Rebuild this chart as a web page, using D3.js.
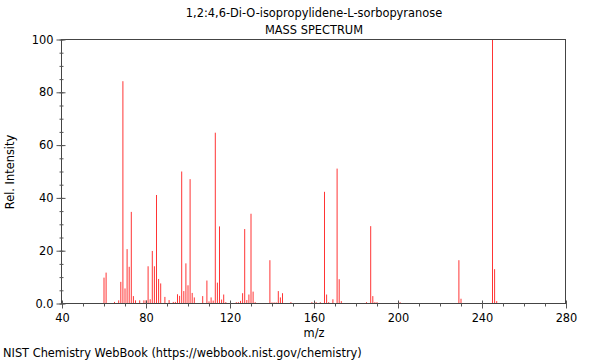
<!DOCTYPE html>
<html>
<head>
<meta charset="utf-8">
<script src="https://cdn.jsdelivr.net/npm/d3@7"></script>
<style>
  body { margin: 0; background: #fff; }
  svg { display: block; font-family: "DejaVu Sans", sans-serif; }
</style>
</head>
<body>
<div id="chart"></div>
<script>
// peaks
var mz = [60, 61, 65, 67, 68, 69, 70, 71, 72, 73, 74, 75, 77, 79, 80, 81, 82, 83, 84, 85,
  86, 87, 89, 91, 93, 94, 95, 96, 97, 98, 99, 100, 101, 102, 103, 107, 109, 110, 111, 112,
  113, 114, 115, 116, 117, 118, 123, 124, 125, 126, 127, 128, 129, 130, 131, 132, 139, 140, 141, 142,
  143, 144, 145, 149, 159, 161, 163, 165, 166, 167, 169, 171, 172, 173, 185, 187, 188, 189, 190, 201,
  229, 230, 245, 246, 247];
var intensity = [9.8, 11.7, 0.6, 1.2, 8.2, 84.2, 5.7, 20.6, 13.9, 34.7, 2.8, 1.2, 1.2, 1.2, 1.2, 14.1, 1.6, 19.9, 14.1, 41.1,
  9.3, 7.6, 2.5, 1.3, 0.6, 0.6, 3.5, 2.9, 50.0, 4.7, 15.2, 6.9, 47.1, 4.0, 2.3, 2.8, 8.7, 0.8, 2.3, 1.1,
  64.7, 7.9, 29.2, 1.5, 3.4, 0.5, 0.5, 0.5, 1.0, 3.9, 28.2, 1.3, 3.4, 34.0, 4.5, 0.5, 16.4, 0.4, 0.4, 0.4,
  4.7, 2.3, 3.9, 0.5, 0.5, 0.5, 0.5, 42.3, 3.4, 0.5, 1.6, 51.1, 9.2, 0.9, 0.5, 29.3, 2.8, 0.5, 0.5, 0.5,
  16.4, 1.8, 100, 13.0, 0.9];

var xTicks = [40, 80, 120, 160, 200, 240, 280];
var xMinor = d3.range(40, 281, 10);
var yTicks = [0, 20, 40, 60, 80, 100];
var yTickLabels = ["0.0", "20", "40", "60", "80", "100"];
var yMinor = d3.range(0, 101, 5);

var titleLines = ["1,2:4,6-Di-O-isopropylidene-L-sorbopyranose", "MASS SPECTRUM"];
var xLabel = "m/z", yLabel = "Rel. Intensity";
var credit = "NIST Chemistry WebBook (https://webbook.nist.gov/chemistry)";

data = mz.map((m, i) => ({mz: m, value: intensity[i]}));

var width = 600, height = 360;
var fs = 11.4;
margin = ({top: 40, right: 34, bottom: 56, left: 62});

var svg = d3.select("#chart").append("svg")
  .attr("width", width)
  .attr("height", height);

x = d3.scaleLinear()
  .domain([40, 280])
  .range([margin.left, width - margin.right]);

y = d3.scaleLinear()
  .domain([0, 100])
  .range([height - margin.bottom - 0.5, margin.top - 0.5]);

// peaks
svg.append("g")
  .attr("stroke", "#ff0000")
  .attr("stroke-width", 0.8)
  .selectAll("line")
  .data(data)
  .enter().append("line")
  .attr("x1", d => x(d.mz))
  .attr("x2", d => x(d.mz))
  .attr("y1", y(0))
  .attr("y2", d => y(d.value));

// frame
svg.append("rect")
  .attr("x", margin.left - 0.5)
  .attr("y", margin.top - 0.5)
  .attr("width", width - margin.left - margin.right)
  .attr("height", height - margin.top - margin.bottom)
  .attr("fill", "none")
  .attr("stroke", "#444");

var crisp = v => Math.round(v) - 0.5;

// x axis
var xAxisG = svg.append("g")
  .attr("transform", `translate(0,${y(0)})`);
xAxisG.append("g")
  .call(d3.axisBottom(x).tickValues(xMinor).tickFormat("").tickSize(3).tickSizeOuter(0))
  .call(g => g.select(".domain").remove());
xAxisG.append("g")
  .call(d3.axisBottom(x).tickValues(xTicks).tickFormat(d3.format("d")).tickSize(5).tickSizeOuter(0))
  .call(g => g.select(".domain").remove())
  .call(g => g.selectAll(".tick line").attr("y1", -3))
  .call(g => g.selectAll(".tick text").attr("font-size", fs).attr("font-family", "DejaVu Sans").attr("fill", "#000").attr("dy", "0.95em"));
xAxisG.selectAll(".tick").attr("transform", function() {
  var t = d3.select(this).attr("transform").match(/translate\(([^,]+)/);
  return `translate(${crisp(+t[1] + 0.5)},0)`;
});
xAxisG.selectAll(".tick line").attr("stroke", "#555");

// y axis
var yAxisG = svg.append("g")
  .attr("transform", `translate(${margin.left - 0.5},0)`);
yAxisG.append("g")
  .call(d3.axisLeft(y).tickValues(yMinor).tickFormat("").tickSize(2).tickSizeOuter(0))
  .call(g => g.select(".domain").remove())
  .call(g => g.selectAll(".tick line").attr("x1", 2));
yAxisG.append("g")
  .call(d3.axisLeft(y).tickValues(yTicks).tickFormat((d, i) => yTickLabels[i]).tickSize(5).tickSizeOuter(0))
  .call(g => g.select(".domain").remove())
  .call(g => g.selectAll(".tick line").attr("x1", 4))
  .call(g => g.selectAll(".tick text").attr("font-size", fs).attr("font-family", "DejaVu Sans").attr("fill", "#000"));
yAxisG.selectAll(".tick line").attr("stroke", "#555");

// titles
svg.append("g")
  .attr("font-size", fs)
  .attr("text-anchor", "middle")
  .selectAll("text")
  .data(titleLines)
  .enter().append("text")
  .attr("x", 314)
  .attr("y", (d, i) => 17 + i * 17)
  .text(d => d);

svg.append("text")
  .attr("x", 314)
  .attr("y", 337)
  .attr("font-size", fs)
  .attr("text-anchor", "middle")
  .text(xLabel);

svg.append("text")
  .attr("transform", "translate(14,172) rotate(-90)")
  .attr("font-size", fs)
  .attr("text-anchor", "middle")
  .text(yLabel);

svg.append("text")
  .attr("x", 3)
  .attr("y", 357)
  .attr("font-size", fs)
  .text(credit);
</script>
</body>
</html>
